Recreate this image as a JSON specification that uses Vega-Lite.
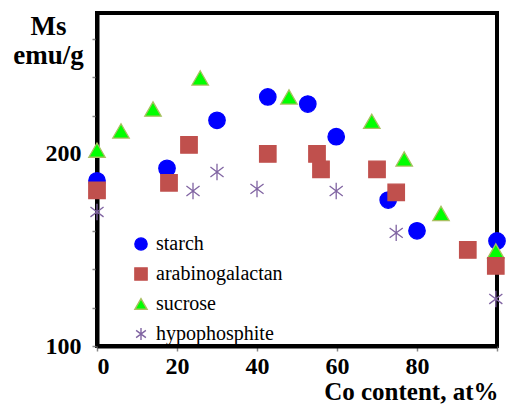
{
  "$schema": "https://vega.github.io/schema/vega-lite/v6.json",
  "autosize": {"type": "none"},
  "width": 400,
  "height": 333,
  "padding": {"left": 97, "top": 13, "right": 12, "bottom": 61},
  "config": {
    "view": {"stroke": "black", "strokeWidth": 4},
    "font": "Liberation Serif"
  },
  "data": {
    "values": [
      {"x": 0, "ms": 186, "series": "starch"},
      {"x": 17.5, "ms": 192.5, "series": "starch"},
      {"x": 30, "ms": 217.5, "series": "starch"},
      {"x": 42.7, "ms": 229.7, "series": "starch"},
      {"x": 52.7, "ms": 226, "series": "starch"},
      {"x": 59.8, "ms": 209, "series": "starch"},
      {"x": 72.8, "ms": 176, "series": "starch"},
      {"x": 80, "ms": 160, "series": "starch"},
      {"x": 100, "ms": 154.7, "series": "starch"},
      {"x": 0, "ms": 202, "series": "sucrose"},
      {"x": 6, "ms": 212, "series": "sucrose"},
      {"x": 14, "ms": 223.4, "series": "sucrose"},
      {"x": 25.8, "ms": 239.6, "series": "sucrose"},
      {"x": 48, "ms": 229.7, "series": "sucrose"},
      {"x": 68.7, "ms": 217, "series": "sucrose"},
      {"x": 76.8, "ms": 197.4, "series": "sucrose"},
      {"x": 86, "ms": 169, "series": "sucrose"},
      {"x": 99.7, "ms": 149.5, "series": "sucrose"},
      {"x": 0, "ms": 181, "series": "arabinogalactan"},
      {"x": 18, "ms": 185, "series": "arabinogalactan"},
      {"x": 23, "ms": 204.7, "series": "arabinogalactan"},
      {"x": 42.7, "ms": 200, "series": "arabinogalactan"},
      {"x": 55, "ms": 200, "series": "arabinogalactan"},
      {"x": 56, "ms": 192, "series": "arabinogalactan"},
      {"x": 70, "ms": 192, "series": "arabinogalactan"},
      {"x": 74.8, "ms": 180, "series": "arabinogalactan"},
      {"x": 92.7, "ms": 150, "series": "arabinogalactan"},
      {"x": 99.7, "ms": 141.7, "series": "arabinogalactan"},
      {"x": 0, "ms": 169.8, "series": "hypophosphite"},
      {"x": 24, "ms": 180.7, "series": "hypophosphite"},
      {"x": 30, "ms": 190.6, "series": "hypophosphite"},
      {"x": 40, "ms": 181.8, "series": "hypophosphite"},
      {"x": 59.8, "ms": 180.7, "series": "hypophosphite"},
      {"x": 74.8, "ms": 158.9, "series": "hypophosphite"},
      {"x": 99.7, "ms": 124.5, "series": "hypophosphite"}
    ]
  },
  "mark": {"type": "point", "opacity": 1, "strokeWidth": 1.3, "size": 270, "clip": false},
  "encoding": {
    "x": {
      "field": "x", "type": "quantitative",
      "scale": {"domain": [0, 100], "nice": false, "zero": false},
      "axis": {
        "values": [0, 20, 40, 60, 80, 100],
        "labelExpr": "datum.value < 100 ? datum.label : ''",
        "grid": false,
        "domainColor": "black", "domainWidth": 4,
        "tickColor": "#888888", "tickWidth": 1.5, "tickSize": 5,
        "labelFont": "Liberation Serif", "labelFontWeight": "bold", "labelFontSize": 24,
        "labelColor": "black", "labelPadding": 3,
        "title": "Co content, at%",
        "titleFont": "Liberation Serif", "titleFontWeight": "bold", "titleFontSize": 25,
        "titleColor": "black",
        "titleAnchor": "end", "titleAlign": "right", "titleX": 401,
        "titleBaseline": "alphabetic", "titleY": 53
      }
    },
    "y": {
      "field": "ms", "type": "quantitative",
      "scale": {"domain": [100, 273.4], "nice": false, "zero": false},
      "axis": {
        "values": [100, 120, 140, 160, 180, 200, 220, 240, 260],
        "labelExpr": "datum.value == 100 || datum.value == 200 ? datum.label : ''",
        "grid": false,
        "domainColor": "black", "domainWidth": 4,
        "tickColor": "#888888", "tickWidth": 1.5, "tickSize": 5,
        "labelFont": "Liberation Serif", "labelFontWeight": "bold", "labelFontSize": 24,
        "labelColor": "black", "labelPadding": 11,
        "title": ["Ms", "emu/g"],
        "titleFont": "Liberation Serif", "titleFontWeight": "bold", "titleFontSize": 27,
        "titleColor": "black",
        "titleAngle": 0, "titleAlign": "center", "titleX": -49, "titleY": 21,
        "titleBaseline": "alphabetic", "titleLineHeight": 29
      }
    },
    "shape": {
      "field": "series", "type": "nominal",
      "scale": {
        "domain": ["starch", "arabinogalactan", "sucrose", "hypophosphite"],
        "range": ["circle", "square", "triangle-up", "M0,-1L0,1M-0.8,-0.6L0.8,0.6M-0.8,0.6L0.8,-0.6"]
      },
      "legend": {
        "title": null, "orient": "none", "legendX": 34, "legendY": 221,
        "labelFont": "Liberation Serif", "labelFontSize": 20, "labelColor": "black",
        "symbolSize": 150, "symbolStrokeWidth": 1.4, "labelOffset": 5, "rowPadding": 10,
        "symbolOpacity": 1
      }
    },
    "fill": {
      "field": "series", "type": "nominal",
      "scale": {
        "domain": ["starch", "arabinogalactan", "sucrose", "hypophosphite"],
        "range": ["#0000FF", "#C0504D", "#00FF00", "transparent"]
      },
      "legend": {"title": null, "orient": "none", "legendX": 34, "legendY": 221,
        "labelFont": "Liberation Serif", "labelFontSize": 20, "labelColor": "black",
        "symbolSize": 150, "symbolStrokeWidth": 1.4, "labelOffset": 5, "rowPadding": 10,
        "symbolOpacity": 1}
    },
    "stroke": {
      "field": "series", "type": "nominal",
      "scale": {
        "domain": ["starch", "arabinogalactan", "sucrose", "hypophosphite"],
        "range": ["#0000FF", "#C0504D", "#A8C060", "#8064A2"]
      },
      "legend": {"title": null, "orient": "none", "legendX": 34, "legendY": 221,
        "labelFont": "Liberation Serif", "labelFontSize": 20, "labelColor": "black",
        "symbolSize": 150, "symbolStrokeWidth": 1.4, "labelOffset": 5, "rowPadding": 10,
        "symbolOpacity": 1}
    }
  }
}
